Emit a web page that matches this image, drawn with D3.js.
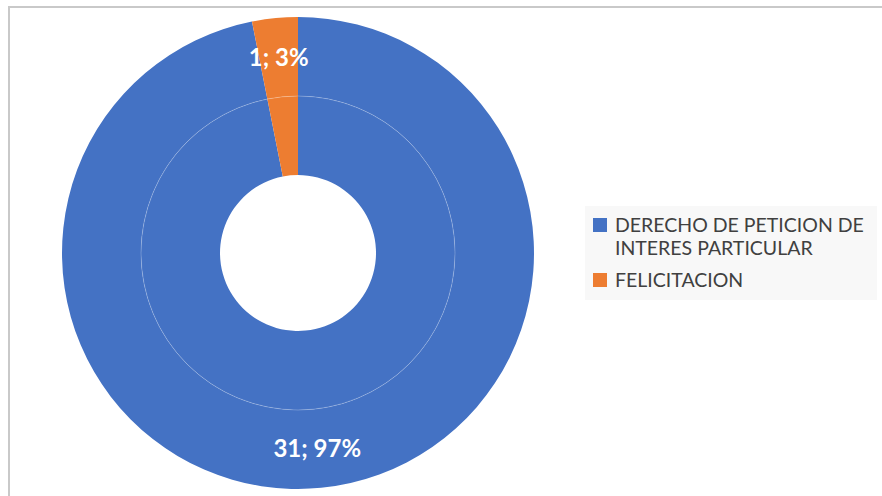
<!DOCTYPE html>
<html>
<head>
<meta charset="utf-8">
<script src="https://cdn.jsdelivr.net/npm/d3@7"></script>
<style>
  body { margin: 0; background: #fff; }
  svg { display: block; font-family: Lato, "Open Sans", sans-serif; }
</style>
</head>
<body>
<script>
const categories = ["DERECHO DE PETICION DE INTERES PARTICULAR", "FELICITACION"];
const legendLines = [["DERECHO DE PETICION DE", "INTERES PARTICULAR"], ["FELICITACION"]];
const values = [31, 1];
const colors = ["#4472C4", "#ED7D31"];

const width = 882, height = 496;
const cx = 298, cy = 253;
const rHole = 78, rMid = 157, rOuter = 236;

const svg = d3.select("body").append("svg")
  .attr("width", width)
  .attr("height", height);

// chart frame
svg.append("rect")
  .attr("x", 9).attr("y", 7)
  .attr("width", width + 20).attr("height", height + 20)
  .attr("fill", "none")
  .attr("stroke", "#c9c9c9")
  .attr("stroke-width", 2);

const total = d3.sum(values);
const data = categories.map((c, i) => ({ name: c, value: values[i], color: colors[i] }));

const pie = d3.pie().value(d => d.value).sort(null);
const arcs = pie(data);

const outerArc = d3.arc().innerRadius(rMid).outerRadius(rOuter);
const innerArc = d3.arc().innerRadius(rHole).outerRadius(rMid);

const g = svg.append("g").attr("transform", `translate(${cx},${cy})`);

// inner ring
g.append("g").selectAll("path")
  .data(arcs)
  .join("path")
  .attr("d", innerArc)
  .attr("fill", d => d.data.color);

// outer ring
g.append("g").selectAll("path")
  .data(arcs)
  .join("path")
  .attr("d", outerArc)
  .attr("fill", d => d.data.color);

// faint divider between the two rings
g.append("circle")
  .attr("r", rMid)
  .attr("fill", "none")
  .attr("stroke", "rgba(255,255,255,0.4)")
  .attr("stroke-width", 0.6);

// data labels
g.append("g").selectAll("text")
  .data(arcs)
  .join("text")
  .attr("transform", d => `translate(${outerArc.centroid(d)})`)
  .attr("text-anchor", "middle")
  .attr("dy", "0.36em")
  .attr("fill", "#fff")
  .attr("font-weight", "bold")
  .attr("font-size", 24)
  .text(d => `${d.data.value}; ${Math.round(d.data.value / total * 100)}%`);

// legend
const legend = svg.append("g");
legend.append("rect")
  .attr("x", 585).attr("y", 206)
  .attr("width", 292).attr("height", 94)
  .attr("fill", "#f8f8f8");

const lineH = 23;
let baseY = 232;
data.forEach((d, i) => {
  legend.append("rect")
    .attr("x", 593).attr("y", baseY - 14)
    .attr("width", 14).attr("height", 14)
    .attr("fill", d.color);
  const t = legend.append("text")
    .attr("x", 615).attr("y", baseY)
    .attr("fill", "#404040")
    .attr("font-size", 19.5);
  legendLines[i].forEach((ln, j) => {
    t.append("tspan").attr("x", 615).attr("dy", j === 0 ? 0 : lineH).text(ln);
  });
  baseY += (legendLines[i].length - 1) * lineH + 32;
});
</script>
</body>
</html>
